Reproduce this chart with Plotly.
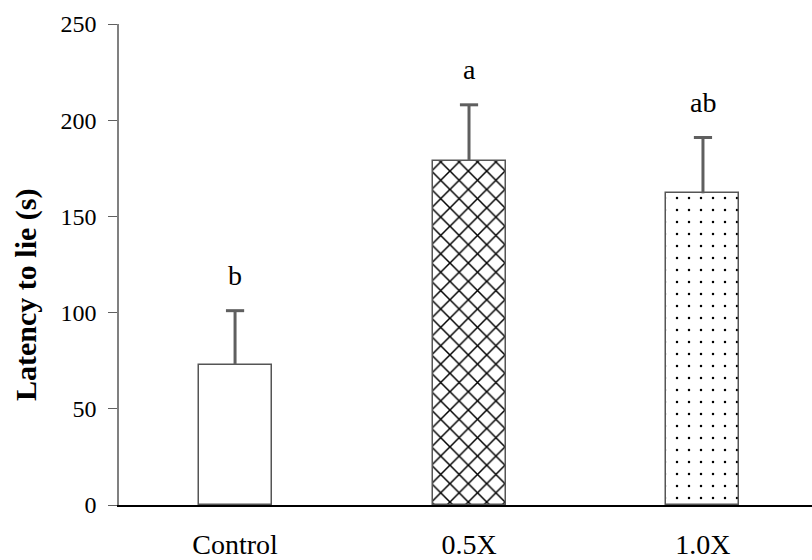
import plotly.graph_objects as go

# Treatment groups and measured latency (mean, upper SE)
groups = ["Control", "0.5X", "1.0X"]
latency_mean = [73, 179, 162]
latency_se = [28, 29, 29]
sig_letters = ["b", "a", "ab"]

y_ticks = [0, 50, 100, 150, 200, 250]

SERIF = "Liberation Serif, Times New Roman, serif"
ERR_COLOR = "#5f5f5f"

bar_patterns = [
    dict(shape=""),
    dict(shape="x", size=13, solidity=0.22, fgcolor="black", fgopacity=1,
         bgcolor="white", fillmode="overlay"),
    dict(shape=".", size=12, solidity=0.035, fgcolor="black", fgopacity=1,
         bgcolor="white", fillmode="overlay"),
]

fig = go.Figure()

for g, m, e, p in zip(groups, latency_mean, latency_se, bar_patterns):
    fig.add_trace(go.Bar(
        x=[g], y=[m],
        width=0.312,
        marker=dict(color="white", pattern=p, line=dict(color="#555555", width=1.5)),
        error_y=dict(type="data", symmetric=False, array=[e], arrayminus=[0],
                     width=0, thickness=3, color=ERR_COLOR),
        showlegend=False,
        hoverinfo="skip",
    ))

# caps on top of the upper error whiskers
cap_y = [m + e for m, e in zip(latency_mean, latency_se)]
fig.add_trace(go.Scatter(
    x=groups, y=cap_y, mode="markers",
    marker=dict(symbol="line-ew", size=13, line=dict(width=3, color=ERR_COLOR)),
    showlegend=False, hoverinfo="skip",
))

# significance letters above each whisker
for g, top, lab in zip(groups, cap_y, sig_letters):
    fig.add_annotation(x=g, y=top, text=lab, showarrow=False,
                       yanchor="bottom", yshift=18,
                       font=dict(family=SERIF, size=28, color="black"))

# y-axis title, placed slightly below the axis midpoint
fig.add_annotation(xref="paper", yref="paper", x=-0.134, y=0.437,
                   text="<b>Latency to lie (s)</b>", textangle=-90,
                   showarrow=False, xanchor="center", yanchor="middle",
                   font=dict(family=SERIF, size=30, color="black"))

fig.update_layout(
    width=812, height=560,
    margin=dict(l=119, r=0, t=24, b=51),
    plot_bgcolor="white", paper_bgcolor="white",
    bargap=0,
    xaxis=dict(
        type="category", range=[-0.496, 2.466],
        showline=True, linecolor="black", linewidth=1.5,
        ticks="", showgrid=False, zeroline=False,
        tickfont=dict(family=SERIF, size=28, color="black"),
        ticklabelstandoff=14,
    ),
    yaxis=dict(
        range=[0, 250], tickvals=y_ticks,
        showline=True, linecolor="#808080", linewidth=1.5,
        ticks="outside", ticklen=9, tickcolor="#606060", tickwidth=1.2,
        showgrid=False, zeroline=False,
        tickfont=dict(family=SERIF, size=24, color="black"),
        ticklabelstandoff=7,
    ),
)

fig.write_html("out.html")
